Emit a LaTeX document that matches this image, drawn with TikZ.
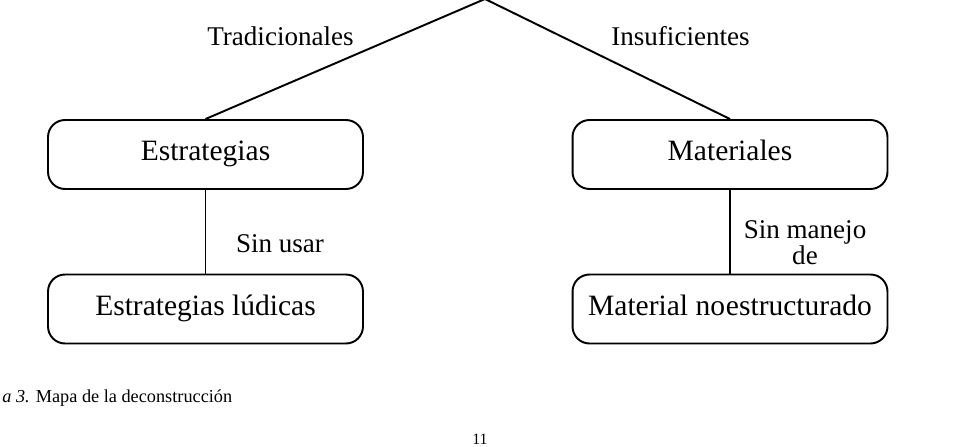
\documentclass[tikz,border=0pt]{standalone}
\usepackage{fontspec}
\setmainfont{Liberation Serif}
\tikzset{
  conceptbox/.style={draw, rounded corners=0.34cm, line width=1.1pt, minimum width=6.3cm, minimum height=1.38cm, inner sep=0pt, text height=0.9em, text depth=0.2em, font=\fontsize{16.8}{20}\selectfont},
  linklabel/.style={font=\fontsize{15.4}{13.1}\selectfont, inner sep=0pt},
  link/.style={line width=1.1pt}
}
\begin{document}
\begin{tikzpicture}[x=0.02cm, y=0.02cm]
        \useasboundingbox (0,0) rectangle (956,446);

        % Top of the map (cut off)
        \coordinate (top) at (485,447);

        % Concepts
        \node[conceptbox] (estr) at (205.5,291.5) {Estrategias};
        \node[conceptbox] (mat) at (730,291.5) {Materiales};
        \node[conceptbox] (ludic) at (205.5,137) {Estrategias lúdicas};
        \node[conceptbox] (noestr) at (730,137) {Material no\kern0.03em estructurado};

        % Link words
        \node[linklabel, anchor=base] (trad) at (280.5,400) {Tradicionales};
        \node[linklabel, anchor=base] (insuf) at (680.5,400) {Insuficientes};
        \node[linklabel, anchor=base] (sinusar) at (280,193) {Sin usar};
        \node[linklabel, align=center] (sinmanejo) at (805,203) {Sin manejo\\de};

        % Connectors
        \draw[link] (estr.north) -- (top);
        \draw[link] (top) -- (mat.north);
        \draw[link] (estr.south) -- (ludic.north);
        \draw[link] (mat.south) -- (noestr.north);

        % Caption and page number
        \node[anchor=base west, inner sep=0pt, font=\fontsize{10.4}{12}\selectfont] (caption) at (2,43) {\textit{a 3.} Mapa de la deconstrucción};
        \node[anchor=base, inner sep=0pt, font=\fontsize{9}{11}\selectfont] (pagenum) at (480,1.5) {11};
\end{tikzpicture}
\end{document}
